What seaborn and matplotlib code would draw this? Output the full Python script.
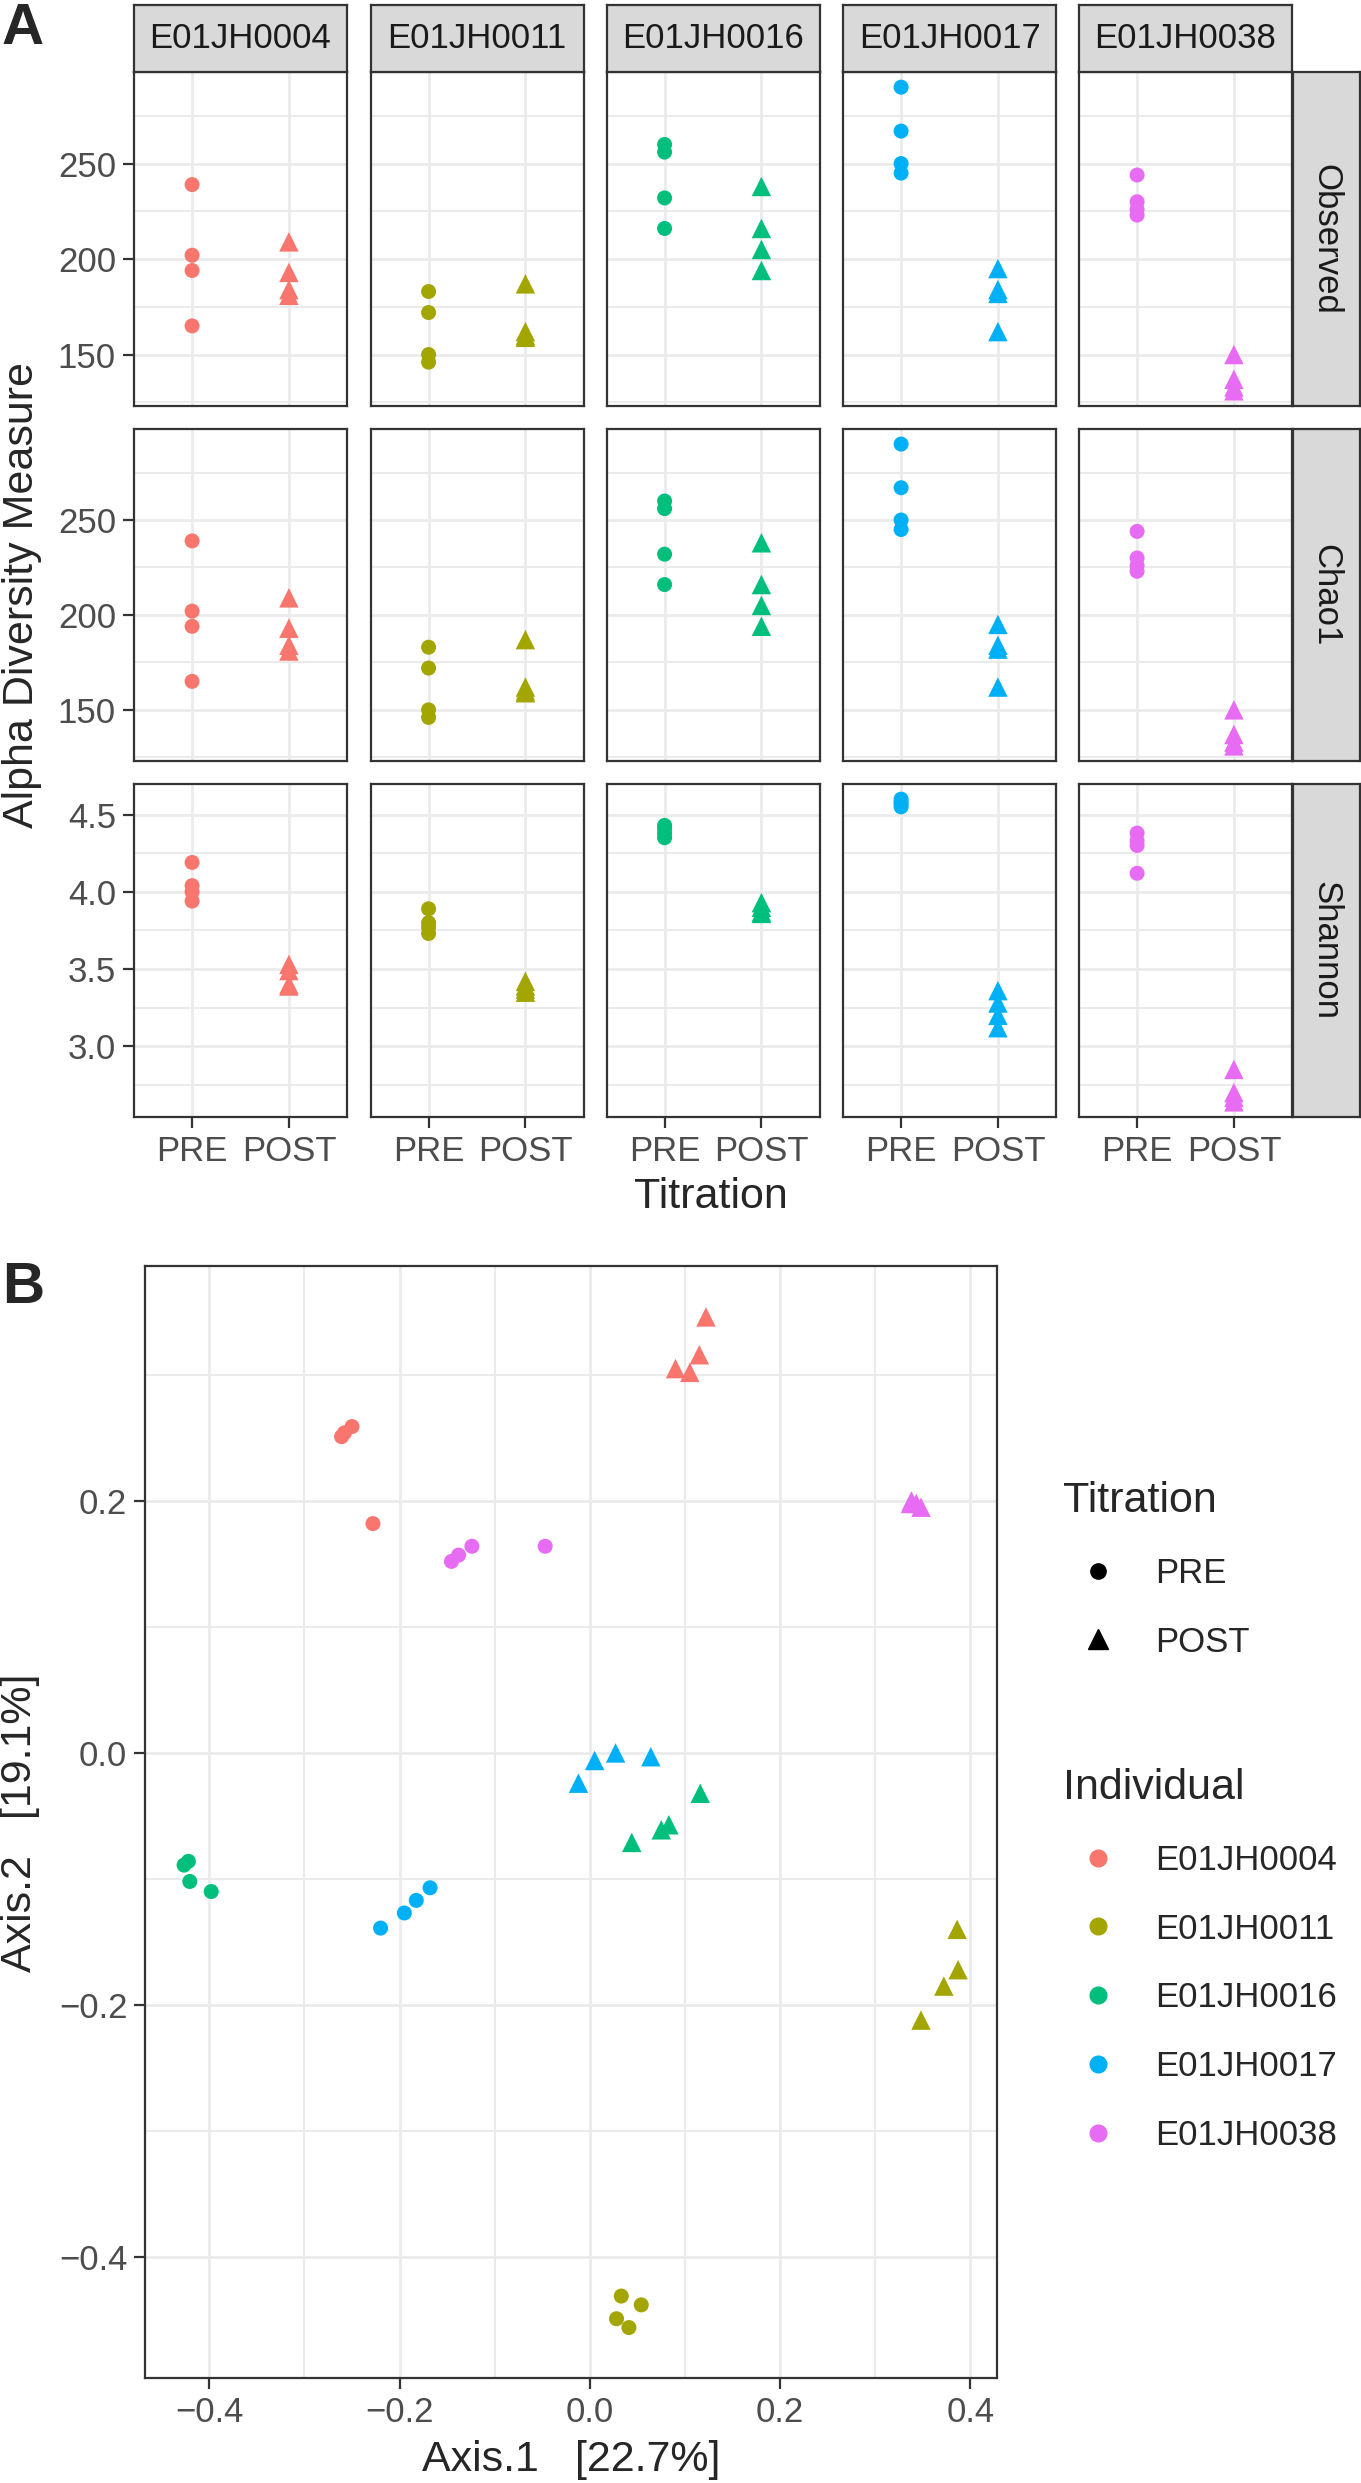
import pandas as pd
import matplotlib
matplotlib.use("Agg")
import matplotlib.pyplot as plt
import seaborn as sns
from matplotlib.lines import Line2D
from matplotlib.ticker import MultipleLocator

# ---- data -------------------------------------------------------------
individuals = ["E01JH0004", "E01JH0011", "E01JH0016", "E01JH0017", "E01JH0038"]
titrations = ["PRE", "POST"]
measures = ["Observed", "Chao1", "Shannon"]
colors = ["#F8766D", "#A3A500", "#00BF7D", "#00B0F6", "#E76BF3"]

observed_pre = [[239, 202, 194, 165], [183, 172, 150, 146], [260, 256, 232, 216],
                [290, 267, 250, 245], [244, 230, 226, 223]]
observed_post = [[209, 193, 184, 181], [187, 162, 160, 159], [238, 216, 205, 194],
                 [195, 184, 182, 162], [150, 137, 133, 131]]
chao1_pre = [[239, 202, 194, 165], [183, 172, 150, 146], [260, 256, 232, 216],
             [290, 267, 250, 245], [244, 230, 226, 223]]
chao1_post = [[209, 193, 184, 181], [187, 162, 160, 159], [238, 216, 205, 194],
              [195, 184, 182, 162], [150, 137, 133, 131]]
shannon_pre = [[4.19, 4.04, 4.00, 3.94], [3.89, 3.80, 3.77, 3.73], [4.43, 4.41, 4.38, 4.35],
               [4.60, 4.58, 4.57, 4.55], [4.38, 4.33, 4.30, 4.12]]
shannon_post = [[3.53, 3.49, 3.40, 3.39], [3.42, 3.39, 3.37, 3.35], [3.93, 3.90, 3.87, 3.86],
                [3.36, 3.28, 3.20, 3.12], [2.85, 2.70, 2.67, 2.64]]

axis1_pre = [[-0.261, -0.258, -0.250, -0.228], [0.033, 0.054, 0.028, 0.041],
             [-0.4265, -0.422, -0.4205, -0.398], [-0.220, -0.195, -0.1825, -0.168],
             [-0.1455, -0.138, -0.124, -0.047]]
axis2_pre = [[0.251, 0.254, 0.259, 0.182], [-0.431, -0.438, -0.449, -0.456],
             [-0.089, -0.086, -0.102, -0.110], [-0.139, -0.127, -0.117, -0.107],
             [0.152, 0.157, 0.164, 0.164]]
axis1_post = [[0.122, 0.115, 0.090, 0.105], [0.386, 0.387, 0.372, 0.348],
              [0.116, 0.044, 0.075, 0.083], [-0.012, 0.005, 0.027, 0.064],
              [0.338, 0.343, 0.348, 0.337]]
axis2_post = [[0.346, 0.316, 0.305, 0.302], [-0.140, -0.172, -0.185, -0.212],
              [-0.032, -0.071, -0.061, -0.057], [-0.024, -0.006, 0.000, -0.003],
              [0.200, 0.198, 0.195, 0.198]]

rows = []
for i, ind in enumerate(individuals):
    for m, pre, post in [("Observed", observed_pre, observed_post),
                         ("Chao1", chao1_pre, chao1_post),
                         ("Shannon", shannon_pre, shannon_post)]:
        for v in pre[i]:
            rows.append((ind, "PRE", m, v))
        for v in post[i]:
            rows.append((ind, "POST", m, v))
alpha = pd.DataFrame(rows, columns=["Individual", "Titration", "Measure", "value"])

rows = []
for i, ind in enumerate(individuals):
    for a1, a2 in zip(axis1_pre[i], axis2_pre[i]):
        rows.append((ind, "PRE", a1, a2))
    for a1, a2 in zip(axis1_post[i], axis2_post[i]):
        rows.append((ind, "POST", a1, a2))
pcoa = pd.DataFrame(rows, columns=["Individual", "Titration", "Axis1", "Axis2"])

# ---- style ------------------------------------------------------------
sns.set_style("white")
plt.rcParams["font.family"] = ["Liberation Sans", "DejaVu Sans"]
plt.rcParams["axes.unicode_minus"] = True

W, H = 1361, 2483
fig = plt.figure(figsize=(W / 100, H / 100), dpi=100)

BORDER = "#333333"
GRID = "#EBEBEB"


def px_axes(x0, y0, x1, y1, **kw):
    return fig.add_axes([x0 / W, 1 - y1 / H, (x1 - x0) / W, (y1 - y0) / H], **kw)


def style_axes(ax):
    for s in ax.spines.values():
        s.set_color(BORDER)
        s.set_linewidth(1.6)
        s.set_visible(True)
    ax.tick_params(which="major", bottom=True, left=True, color=BORDER, width=1.6,
                   length=8, labelsize=25, labelcolor="#4D4D4D", pad=5)
    ax.tick_params(which="minor", length=0)
    ax.grid(which="major", color=GRID, linewidth=2.0)
    ax.grid(which="minor", color=GRID, linewidth=1.4)
    ax.set_axisbelow(True)


def strip(x0, y0, x1, y1, label, rotation=0):
    sa = px_axes(x0, y0, x1, y1, facecolor="#D9D9D9")
    sa.set_xticks([])
    sa.set_yticks([])
    for s in sa.spines.values():
        s.set_color(BORDER)
        s.set_linewidth(1.6)
    sa.text(0.5, 0.5, label, transform=sa.transAxes, ha="center", va="center",
            fontsize=25, color="#1A1A1A", rotation=rotation)


# ---- panel A ----------------------------------------------------------
col_left = [134, 370.5, 606.5, 843, 1079]
col_w = 213
row_top = [72, 429, 784]
row_bot = [406, 761, 1117]

for r, m in enumerate(measures):
    sub_m = alpha[alpha["Measure"] == m]
    lo, hi = sub_m["value"].min(), sub_m["value"].max()
    pad = 0.05 * (hi - lo)
    for c, ind in enumerate(individuals):
        ax = px_axes(col_left[c], row_top[r], col_left[c] + col_w, row_bot[r])
        sub = sub_m[sub_m["Individual"] == ind]
        sns.stripplot(data=sub[sub["Titration"] == "PRE"], x="Titration", y="value",
                      order=titrations, hue="Individual", hue_order=individuals,
                      palette=colors, jitter=False, marker="o", size=10.8,
                      linewidth=0, legend=False, ax=ax)
        sns.stripplot(data=sub[sub["Titration"] == "POST"], x="Titration", y="value",
                      order=titrations, hue="Individual", hue_order=individuals,
                      palette=colors, jitter=False, marker="^", size=14,
                      linewidth=0, legend=False, ax=ax)
        ax.set_xlim(-0.6, 1.6)
        ax.set_ylim(lo - pad, hi + pad)
        if m == "Shannon":
            ax.yaxis.set_major_locator(MultipleLocator(0.5))
            ax.yaxis.set_minor_locator(MultipleLocator(0.25))
        else:
            ax.yaxis.set_major_locator(MultipleLocator(50))
            ax.yaxis.set_minor_locator(MultipleLocator(25))
        style_axes(ax)
        ax.set_xlabel("")
        ax.set_ylabel("")
        if c != 0:
            ax.tick_params(axis="y", which="both", length=0, labelleft=False)
        if r != len(measures) - 1:
            ax.tick_params(axis="x", which="both", length=0, labelbottom=False)
        if r == 0:
            strip(col_left[c], 5, col_left[c] + col_w, 72, ind)
    strip(1292.5, row_top[r], 1359.5, row_bot[r], m, rotation=-90)

fig.text(22 / W, 1 - 594.5 / H, "Alpha Diversity Measure", rotation=90,
         ha="center", va="center", fontsize=31)
fig.text(711 / W, 1 - 1197 / H, "Titration", ha="center", va="center", fontsize=31)
fig.text(2 / W, 1 - 2 / H, "A", ha="left", va="top", fontsize=42, fontweight="bold")

# ---- panel B ----------------------------------------------------------
axb = px_axes(145.4, 1266.4, 996.8, 2378.1)
sns.scatterplot(data=pcoa, x="Axis1", y="Axis2", hue="Individual", hue_order=individuals,
                palette=colors, style="Titration", style_order=titrations,
                markers={"PRE": "o", "POST": "^"}, size="Titration",
                sizes={"PRE": 117, "POST": 196}, linewidth=0, legend=False, ax=axb)
x_lo, x_hi = pcoa["Axis1"].min(), pcoa["Axis1"].max()
y_lo, y_hi = pcoa["Axis2"].min(), pcoa["Axis2"].max()
axb.set_xlim(x_lo - 0.05 * (x_hi - x_lo), x_hi + 0.05 * (x_hi - x_lo))
axb.set_ylim(y_lo - 0.05 * (y_hi - y_lo), y_hi + 0.05 * (y_hi - y_lo))
axb.xaxis.set_major_locator(MultipleLocator(0.2))
axb.xaxis.set_minor_locator(MultipleLocator(0.1))
axb.yaxis.set_major_locator(MultipleLocator(0.2))
axb.yaxis.set_minor_locator(MultipleLocator(0.1))
style_axes(axb)
axb.set_xlabel("Axis.1   [22.7%]", fontsize=31)
axb.set_ylabel("Axis.2   [19.1%]", fontsize=31)
axb.xaxis.set_label_coords((571 - 145.4) / 851.4, -(2460 - 2378.1) / 1111.7)
axb.xaxis.label.set_va("center")
axb.yaxis.set_label_coords((20 - 145.4) / 851.4, 0.5)
axb.yaxis.label.set_va("center")
fig.text(2 / W, 1 - 1261 / H, "B", ha="left", va="top", fontsize=42, fontweight="bold")

# legends
tit_handles = [Line2D([], [], marker="o", color="black", linestyle="", markersize=11),
               Line2D([], [], marker="^", color="black", linestyle="", markersize=14)]
ind_handles = [Line2D([], [], marker="o", color=col, linestyle="", markersize=12)
               for col in colors]
leg_kw = dict(loc="upper left", frameon=False, borderpad=0, borderaxespad=0,
              handlelength=2.0, handletextpad=0.65, labelspacing=1.03, fontsize=25,
              title_fontsize=31, alignment="left")
fig.legend(tit_handles, titrations, title="Titration",
           bbox_to_anchor=(1063 / W, 1 - 1481 / H), **leg_kw)
fig.legend(ind_handles, individuals, title="Individual",
           bbox_to_anchor=(1063 / W, 1 - 1768 / H), **leg_kw)

fig.savefig("out.png", dpi=100)
